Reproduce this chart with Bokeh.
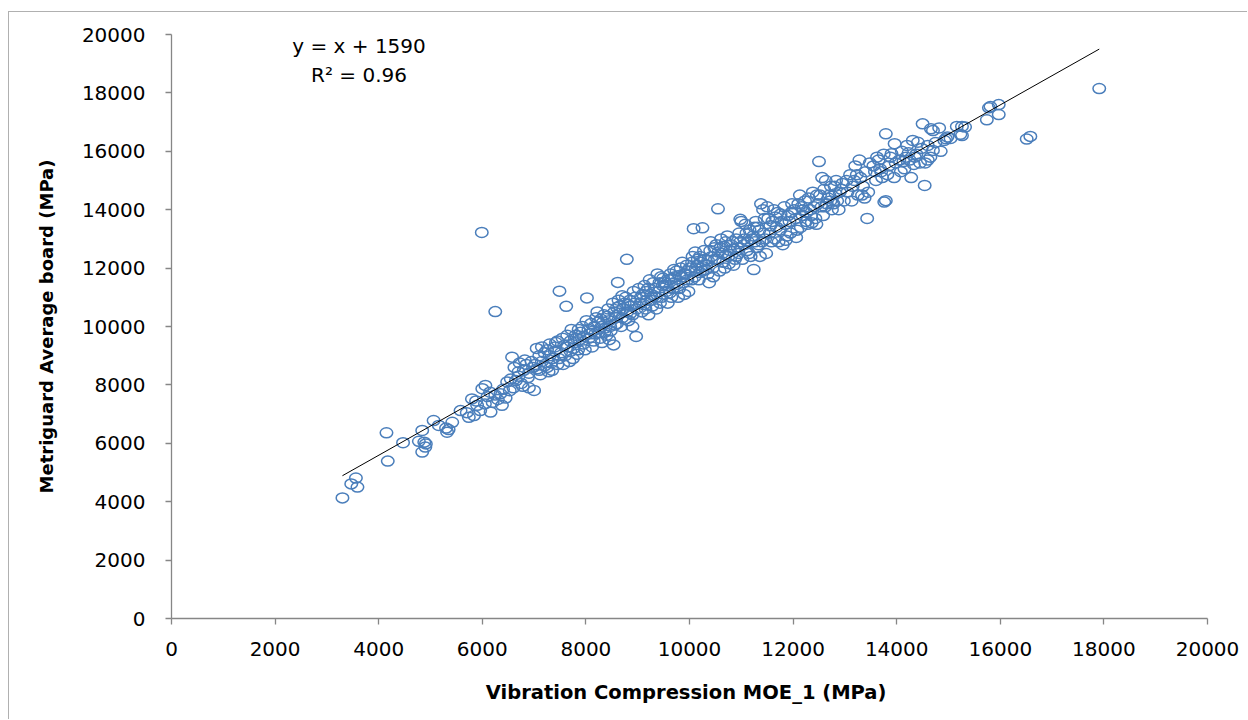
from bokeh.plotting import figure
from bokeh.models import Range1d, FixedTicker, Label, ColumnDataSource
from bokeh.embed import file_html
from bokeh.resources import INLINE

# ---------------- data ----------------
x_ticks = [0, 2000, 4000, 6000, 8000, 10000, 12000, 14000, 16000, 18000, 20000]
y_ticks = [0, 2000, 4000, 6000, 8000, 10000, 12000, 14000, 16000, 18000, 20000]
tick_labels = ["0", "2000", "4000", "6000", "8000", "10000", "12000", "14000", "16000", "18000", "20000"]

x_title = "Vibration Compression  MOE_1 (MPa)"
y_title = "Metriguard Average board (MPa)"

trend_slope = 1.0
trend_intercept = 1590
r_squared = 0.96

vib_a = [3300, 3470, 3560, 3590, 4150, 4175, 4470, 4775, 4840, 4840, 4880, 4900, 4910,
         5060, 5160, 5320, 5350, 5420, 5300, 5580, 5740, 5840, 5800, 5960, 5700, 5900, 5880]
mg_a = [4130, 4610, 4810, 4500, 6360, 5390, 6020, 6070, 6440, 5700, 6040, 5870, 5980,
        6780, 6610, 6380, 6470, 6720, 6520, 7120, 6890, 6950, 7520, 7120, 7050, 7300, 7450]

vib_b = [5990, 6250, 6000, 6060, 6160, 6100, 6200, 6300, 6350, 6400, 6250, 6450, 6050, 6480, 6150, 6380,
         6575, 6550, 6600, 6650, 6700, 6750, 6800, 6850, 6900, 6950, 7000, 6620, 6720, 6780, 6880, 6980,
         6700, 6900, 6820, 6530]
mg_b = [13220, 10510, 7870, 7980, 7070, 7600, 7400, 7500, 7700, 7850, 7650, 7550, 7350, 8100, 7750, 7300,
        8950, 8200, 7900, 8150, 8300, 8050, 8500, 8700, 8400, 8800, 7810, 8600, 8750, 7950, 8250, 8600,
        8450, 7900, 8850, 7800]

vib_c = [7050, 7100, 7150, 7200, 7250, 7300, 7350, 7400, 7450, 7490, 7100, 7200, 7300, 7400, 7020, 7150,
         7250, 7350, 7450, 7480, 7120, 7330, 7420, 7060, 7280,
         7620, 7550, 7600, 7650, 7700, 7750, 7800, 7850, 7900, 7950, 7520, 7580, 7680, 7720, 7780, 7830,
         7880, 7930, 7980, 7560, 7640, 7760, 7860, 7960, 7700, 7820]
mg_c = [9250, 8500, 8800, 9100, 8600, 9400, 8900, 9300, 8700, 11210, 9000, 8650, 9000, 9150, 8700, 9300,
        9200, 8500, 9500, 8900, 8350, 8750, 9450, 8550, 8450,
        10690, 9600, 9000, 9300, 9500, 8900, 9700, 9200, 9800, 9400, 9100, 9350, 8800, 9900, 9450, 9050,
        9550, 10000, 9200, 8700, 9700, 9250, 9900, 9650, 9150, 9600]

vib_d = [8020, 8050, 8100, 8150, 8200, 8250, 8300, 8350, 8400, 8450, 8060, 8120, 8180, 8220, 8280, 8330,
         8380, 8430, 8480, 8010, 8090, 8160, 8240, 8310, 8360, 8410, 8470, 8140, 8290, 8450,
         8535, 8615, 8790, 8970, 8550, 8600, 8650, 8700, 8750, 8800, 8850, 8900, 8950, 8520, 8580, 8630,
         8680, 8720, 8770, 8820, 8870, 8920, 8980, 8560, 8660, 8760, 8860, 8940, 8700, 8810, 8900, 8600]
mg_d = [10980, 9900, 10100, 9500, 10300, 9800, 10000, 10400, 9700, 10200, 9600, 9300, 9750, 10500, 9600, 10150,
        9950, 10600, 9850, 10200, 9750, 10000, 10150, 9450, 9800, 10350, 10000, 9850, 10250, 9550,
        9370, 11510, 12300, 9660, 10500, 10100, 10700, 10300, 10800, 10500, 10900, 10400, 11000, 10800, 10300, 10900,
        10000, 10600, 11000, 10200, 10700, 11200, 10600, 10050, 10450, 10250, 10450, 10800, 11050, 10750, 10000, 10650]

vib_e = [9050, 9100, 9150, 9200, 9250, 9300, 9350, 9400, 9450, 9020, 9080, 9130, 9180, 9230, 9280, 9330,
         9380, 9430, 9480, 9060, 9160, 9260, 9360, 9460, 9120, 9310, 9420, 9210, 9490,
         9550, 9600, 9650, 9700, 9750, 9800, 9850, 9900, 9950, 9520, 9580, 9630, 9680, 9720, 9780, 9830,
         9880, 9930, 9980, 9560, 9660, 9760, 9860, 9960, 9620, 9700, 9900, 9800]
mg_e = [10800, 11100, 10600, 11300, 10900, 11500, 11000, 11200, 11700, 11300, 10500, 11400, 10900, 11600, 10700, 11300,
        11800, 10800, 11400, 11000, 11200, 11100, 10600, 11000, 10750, 11050, 11500, 10400, 11650,
        11200, 11600, 11000, 11500, 11900, 11300, 11700, 11100, 12100, 11500, 10800, 11800, 11300, 11700, 11000, 12000,
        11500, 11800, 11200, 11400, 11650, 11450, 12200, 11600, 11150, 11950, 11800, 11750]

vib_f = [10080, 10250, 10050, 10100, 10150, 10200, 10250, 10300, 10350, 10400, 10450, 10020, 10060, 10120, 10180, 10220,
         10280, 10330, 10380, 10430, 10480, 10040, 10160, 10260, 10360, 10460, 10110, 10310, 10410, 10000, 10200, 10490,
         10550, 10980, 10550, 10600, 10650, 10700, 10750, 10800, 10850, 10900, 10950, 10520, 10580, 10630, 10680, 10730,
         10780, 10830, 10880, 10930, 10980, 10560, 10660, 10760, 10860, 10960, 10700, 10900, 10610]
mg_f = [13350, 13380, 12200, 11700, 12100, 12400, 11900, 12300, 11800, 12600, 12000, 11900, 12400, 12000, 11600, 12200,
        12600, 12100, 11500, 12400, 12700, 11600, 12300, 12050, 12250, 11700, 12550, 11950, 12900, 12000, 11850, 12300,
        14030, 13670, 12300, 12700, 12200, 12900, 12400, 12800, 12100, 13000, 12500, 12800, 11900, 12500, 12000, 13100,
        12600, 12900, 12300, 12700, 12900, 12550, 12750, 12150, 12650, 13200, 12450, 12400, 13000]

vib_g = [11050, 11100, 11150, 11200, 11250, 11300, 11350, 11400, 11450, 11020, 11080, 11130, 11180, 11230, 11280, 11330,
         11380, 11430, 11480, 11060, 11160, 11260, 11360, 11460, 11110, 11310, 11420, 11240, 11000,
         11550, 11600, 11650, 11700, 11750, 11800, 11850, 11900, 11950, 11520, 11580, 11630, 11680, 11720, 11780, 11830,
         11880, 11930, 11980, 11560, 11660, 11760, 11860, 11960, 11500]
mg_g = [12800, 13200, 12500, 13000, 13400, 12700, 13300, 12900, 13700, 12300, 13500, 12900, 12400, 13100, 13600, 12800,
        14200, 13200, 12500, 13000, 13300, 12900, 12400, 13000, 12600, 13400, 14000, 11950, 13600,
        13200, 13600, 13000, 13900, 13300, 12800, 13500, 13800, 13200, 13700, 12900, 14000, 13400, 12900, 13600, 14100,
        13100, 13600, 14200, 13450, 13750, 13850, 12950, 13900, 14100]

vib_h = [12050, 12100, 12150, 12200, 12250, 12300, 12350, 12400, 12450, 12020, 12080, 12130, 12180, 12230, 12280, 12330,
         12380, 12430, 12480, 12060, 12160, 12260, 12360, 12460, 12500,
         12550, 12600, 12650, 12700, 12750, 12800, 12850, 12900, 12950, 12520, 12580, 12630, 12680, 12730, 12780, 12830,
         12880, 12930, 12980, 12620, 12720, 12820, 12560]
mg_h = [13700, 14200, 13400, 14000, 13600, 14400, 13800, 14100, 13500, 14000, 13300, 14500, 13800, 14300, 13500, 14000,
        14600, 13700, 14200, 13050, 14100, 13900, 13550, 14500, 15650,
        14100, 14700, 14200, 14500, 14000, 14800, 14300, 14600, 14900, 14500, 13800, 15000, 14400, 14800, 14200, 15000,
        14000, 14700, 14300, 14100, 14300, 14550, 15100]

vib_i = [13050, 13100, 13150, 13200, 13250, 13300, 13350, 13400, 13450, 13030, 13130, 13230, 13330, 13430, 13280, 13380,
         13180, 13480,
         13550, 13600, 13650, 13700, 13750, 13790, 13790, 13760, 13900, 13960, 13850, 13950, 13580, 13680, 13880, 13620,
         13720, 13820, 13980]
mg_i = [14600, 15200, 14800, 15500, 14500, 15100, 14800, 15300, 14600, 15000, 14300, 15200, 14500, 13700, 15700, 14400,
        15000, 15600,
        15500, 15000, 15700, 15300, 15900, 16600, 14310, 14260, 15920, 16260, 15500, 15100, 15300, 15400, 15800, 15800,
        15100, 15200, 15600]

vib_j = [14050, 14100, 14150, 14200, 14250, 14310, 14410, 14350, 14450, 14080, 14180, 14280, 14380, 14480, 14130, 14230,
         14330,
         14500, 14540, 14660, 14700, 14700, 14820, 14950, 14920, 14980, 14600, 14550, 14650, 14750, 14850, 14600,
         15040, 15160, 15230, 15260, 15260, 15320, 15740, 15780, 15810, 15970, 15970, 16510, 16580, 17910]
mg_j = [15700, 16000, 15400, 16200, 15700, 16370, 16310, 15800, 15600, 15300, 15800, 15100, 15900, 16100, 15650, 15950,
        15550,
        16940, 14830, 16770, 16710, 16030, 16800, 16430, 16370, 16490, 16200, 15600, 15800, 16300, 16000, 15700,
        16440, 16850, 16580, 16850, 16540, 16830, 17080, 17490, 17530, 17260, 17600, 16420, 16510, 18150]

vib_moe = vib_a + vib_b + vib_c + vib_d + vib_e + vib_f + vib_g + vib_h + vib_i + vib_j
metriguard_moe = mg_a + mg_b + mg_c + mg_d + mg_e + mg_f + mg_g + mg_h + mg_i + mg_j
assert len(vib_moe) == len(metriguard_moe)

# ---------------- figure ----------------
FONT = "DejaVu Sans"
AXIS_GRAY = "#868686"
MARKER_BLUE = "#4a7ebb"

p = figure(width=1239, height=708, output_backend="svg", toolbar_location=None,
           x_range=Range1d(0, 20000), y_range=Range1d(0, 20000),
           min_border_left=162, min_border_right=41, min_border_top=22, min_border_bottom=102)
p.styles = {"margin-left": "8px", "margin-top": "11px",
            "border-left": "1px solid #b0b0b0", "border-top": "1px solid #b0b0b0"}
p.outline_line_color = None
p.grid.visible = False
p.background_fill_color = "white"
p.border_fill_color = "white"

src = ColumnDataSource(dict(x=vib_moe, y=metriguard_moe))
p.ellipse(x="x", y="y", width=12.5, height=10, width_units="screen", height_units="screen",
          source=src, fill_color=None, line_color=MARKER_BLUE, line_width=1.5)

# trendline from the fitted equation, across the data range
tx = [min(vib_moe), max(vib_moe)]
ty = [trend_slope * v + trend_intercept for v in tx]
p.line(tx, ty, line_color="black", line_width=1)

for ax, ticks in ((p.xaxis, x_ticks), (p.yaxis, y_ticks)):
    ax.ticker = FixedTicker(ticks=ticks)
    ax.major_label_overrides = {t: lab for t, lab in zip(ticks, tick_labels)}
    ax.axis_line_color = AXIS_GRAY
    ax.axis_line_width = 1.3
    ax.major_tick_line_color = AXIS_GRAY
    ax.major_tick_line_width = 1.3
    ax.major_tick_in = 0
    ax.major_tick_out = 6
    ax.minor_tick_line_color = None
    ax.major_label_text_font = FONT
    ax.major_label_text_font_size = "20px"
    ax.major_label_text_color = "black"
    ax.axis_label_text_font = FONT
    ax.axis_label_text_font_style = "bold"
    ax.axis_label_text_color = "black"

p.xaxis.axis_label = x_title
p.yaxis.axis_label = y_title
p.xaxis.axis_label_text_font_size = "19.5px"
p.yaxis.axis_label_text_font_size = "18px"
p.xaxis.major_label_standoff = 17
p.xaxis.axis_label_standoff = 22
p.yaxis.major_label_standoff = 20
p.yaxis.axis_label_standoff = 22

eq_text = "y = x + %d" % trend_intercept
r2_text = "R² = %.2f" % r_squared
p.add_layout(Label(x=3620, y=19620, text=eq_text, text_align="center", text_baseline="middle",
                   text_font=FONT, text_font_size="20px", text_color="black"))
p.add_layout(Label(x=3620, y=18630, text=r2_text, text_align="center", text_baseline="middle",
                   text_font=FONT, text_font_size="20px", text_color="black"))

open("out.html", "w").write(file_html(p, INLINE))
